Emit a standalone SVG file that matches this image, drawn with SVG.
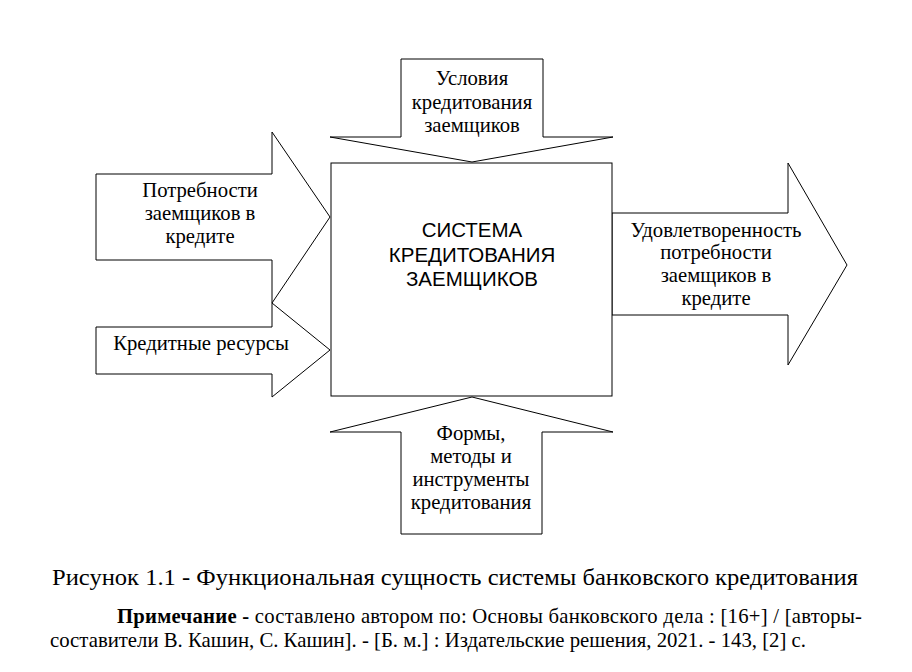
<svg xmlns="http://www.w3.org/2000/svg" width="912" height="672" viewBox="0 0 912 672">
<style>
.shape{fill:#fff;stroke:#000;stroke-width:1}
.t{font-family:"Liberation Serif","Times New Roman",serif;font-size:20.7px;fill:#000;text-anchor:middle}
.s{font-family:"Liberation Sans",Arial,sans-serif;font-size:20.5px;fill:#000;text-anchor:middle}
.cap{font-family:"Liberation Serif","Times New Roman",serif;font-size:24px;fill:#000}
.note{font-family:"Liberation Serif","Times New Roman",serif;font-size:20.7px;fill:#000}
</style>
<rect width="912" height="672" fill="#fff"/>
<g id="connectors">
<g id="arrow-top">
<polygon class="shape" points="401,59 543,59 543,137 613,137 472,162 330,137 401,137"/>
<text class="t" x="472" y="85">Условия</text>
<text class="t" x="472" y="109">кредитования</text>
<text class="t" x="472" y="132">заемщиков</text>
</g>
<g id="arrow-needs">
<polygon class="shape" points="96,174 272,174 272,132 330,217 272,303 272,260 96,260"/>
<text class="t" x="200" y="197">Потребности</text>
<text class="t" x="200" y="220">заемщиков в</text>
<text class="t" x="200" y="243">кредите</text>
</g>
<g id="arrow-resources">
<polygon class="shape" points="96,327 272,327 272,303 330,350 272,397 272,374 96,374"/>
<text class="t" x="201" y="350">Кредитные ресурсы</text>
</g>
<g id="arrow-bottom">
<polygon class="shape" points="472,397 613,432 542,432 542,534 401,534 401,432 330,432"/>
<text class="t" x="471" y="440">Формы,</text>
<text class="t" x="471" y="463">методы и</text>
<text class="t" x="471" y="486">инструменты</text>
<text class="t" x="471" y="509">кредитования</text>
</g>
<g id="arrow-out">
<polygon class="shape" points="612,213 788,213 788,163 847,265 788,365 788,315 612,315"/>
<text class="t" x="716" y="237">Удовлетворенность</text>
<text class="t" x="716" y="259">потребности</text>
<text class="t" x="716" y="282">заемщиков в</text>
<text class="t" x="716" y="305">кредите</text>
</g>
</g>
<g id="system">
<rect class="shape" x="331" y="163" width="281" height="233"/>
<text class="s" x="472" y="237">СИСТЕМА</text>
<text class="s" x="472" y="262">КРЕДИТОВАНИЯ</text>
<text class="s" x="472" y="286">ЗАЕМЩИКОВ</text>
</g>
<g id="caption">
<text class="cap" x="52" y="585" textLength="806" lengthAdjust="spacingAndGlyphs">Рисунок 1.1 - Функциональная сущность системы банковского кредитования</text>
<text class="note" x="117" y="623" textLength="745" lengthAdjust="spacing"><tspan font-weight="bold">Примечание -</tspan> составлено автором по: Основы банковского дела : [16+] / [авторы-</text>
<text class="note" x="50" y="647" textLength="756" lengthAdjust="spacingAndGlyphs">составители В. Кашин, С. Кашин]. - [Б. м.] : Издательские решения, 2021. - 143, [2] с.</text>
</g>
</svg>
